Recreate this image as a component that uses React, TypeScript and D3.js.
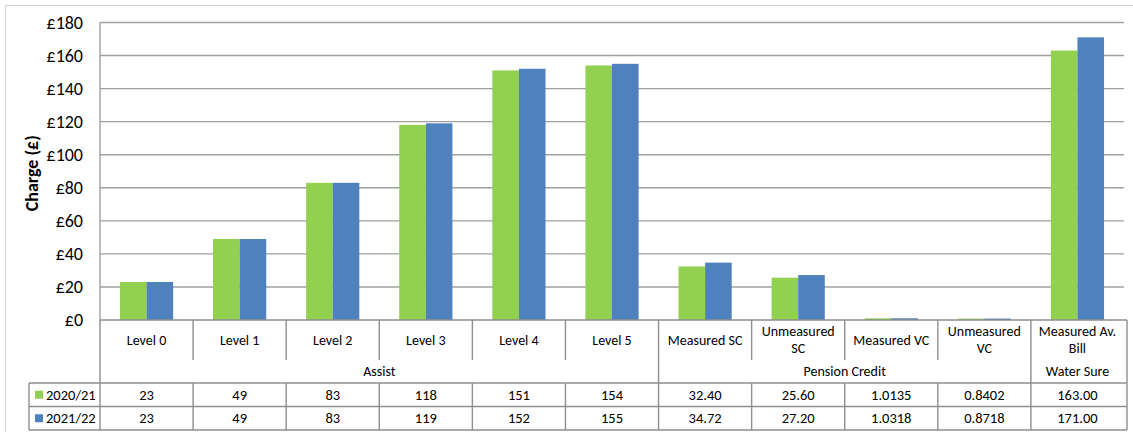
import React from 'react';
import * as d3 from 'd3';

// categories (label lines) and grouping
const categories: string[][] = [
    ['Level 0'], ['Level 1'], ['Level 2'], ['Level 3'], ['Level 4'], ['Level 5'],
    ['Measured SC'], ['Unmeasured', 'SC'], ['Measured VC'], ['Unmeasured', 'VC'], ['Measured Av.', 'Bill'],
];
const groups = [
    { name: 'Assist', span: 6 },
    { name: 'Pension Credit', span: 4 },
    { name: 'Water Sure', span: 1 },
];
const seriesNames = ['2020/21', '2021/22'];
const seriesColors = ['#92D050', '#4F81BD'];

// values as they appear in the data table
const values2020: string[] = ['23', '49', '83', '118', '151', '154', '32.40', '25.60', '1.0135', '0.8402', '163.00'];
const values2021: string[] = ['23', '49', '83', '119', '152', '155', '34.72', '27.20', '1.0318', '0.8718', '171.00'];
const yTicks = [0, 20, 40, 60, 80, 100, 120, 140, 160, 180];

const W = 1133;
const H = 432;
const FONT = 'Carlito, Calibri, Lato, sans-serif';

const App: React.FC = () => {
    const plot = { left: 100, right: 1124, top: 22.5, bottom: 320 };
    const rows = { label: 360, group: 383, r1: 406.5, r2: 430 };
    const legendLeft = 29;

    const keys = categories.map((_, i) => String(i));
    const x = d3.scaleBand<string>().domain(keys).range([plot.left, plot.right]).padding(0);
    const bw = x.bandwidth();
    const xInner = d3.scaleBand<string>().domain(seriesNames).range([0, bw]).paddingInner(0).paddingOuter(0.75);
    const y = d3.scaleLinear().domain([0, 180]).range([plot.bottom, plot.top]);

    const series = [values2020, values2021];
    const gridColor = '#a0a0a0';
    const tableColor = '#8e8e8e';

    let acc = 0;
    const groupPos = groups.map(g => {
        const start = acc;
        acc += g.span;
        return { ...g, x0: x(String(start))!, x1: x(String(acc - 1))! + bw };
    });

    return (
        <svg width={W} height={H} style={{ position: 'absolute', left: 0, top: 0, background: '#fff' }} fontFamily={FONT}>
            <rect x={5.5} y={5.5} width={W + 20} height={H + 20} fill="#fff" stroke="#d0d0d0" />

            {/* gridlines */}
            {yTicks.filter(t => t > 0).map(t => (
                <line key={t} x1={plot.left} x2={plot.right} y1={y(t)} y2={y(t)} stroke={gridColor} strokeWidth={1.4} />
            ))}
            <line x1={plot.left} x2={plot.left} y1={plot.top} y2={plot.bottom} stroke={gridColor} strokeWidth={1.4} />

            {/* tick labels */}
            {yTicks.map(t => (
                <text key={t} x={83} y={y(t)} dy="0.35em" textAnchor="end" fontSize={18} fill="#000">£{t}</text>
            ))}
            <text transform={`translate(38,${(plot.top + plot.bottom) / 2 + 2}) rotate(-90)`} textAnchor="middle"
                fontSize={18} fontWeight="bold" fill="#000">Charge (£)</text>

            {/* bars */}
            {series.map((vals, si) => vals.map((v, i) => {
                const val = +v;
                const bx = x(String(i))! + xInner(seriesNames[si])!;
                return (
                    <rect key={`${si}-${i}`} x={bx} y={y(val)} width={xInner.bandwidth()} height={plot.bottom - y(val)}
                        fill={seriesColors[si]} />
                );
            }))}

            {/* data table */}
            <g stroke={tableColor} strokeWidth={1.4} fill="none">
                <line x1={plot.left} x2={plot.right + 3} y1={plot.bottom} y2={plot.bottom} />
                <line x1={plot.left} x2={plot.left} y1={plot.bottom} y2={rows.r2} />
                {keys.map((k, i) => i > 0 && (
                    <line key={k} x1={x(k)} x2={x(k)} y1={plot.bottom} y2={rows.label} />
                ))}
                <line x1={plot.right + 3} x2={plot.right + 3} y1={plot.bottom} y2={rows.r2} />
                {groupPos.slice(1).map(g => (
                    <line key={g.name} x1={g.x0} x2={g.x0} y1={rows.label} y2={rows.group} />
                ))}
                {[rows.group, rows.r1, rows.r2].map(ry => (
                    <line key={ry} x1={legendLeft} x2={plot.right + 3} y1={ry} y2={ry} />
                ))}
                <line x1={legendLeft} x2={legendLeft} y1={rows.group} y2={rows.r2} />
                {keys.map((k, i) => i > 0 && (
                    <line key={k} x1={x(k)} x2={x(k)} y1={rows.group} y2={rows.r2} />
                ))}
            </g>

            {/* category labels */}
            {categories.map((lines, i) => {
                const cx = x(String(i))! + bw / 2;
                const cy = (plot.bottom + rows.label) / 2;
                return (
                    <text key={i} x={cx} textAnchor="middle" fontSize={14} fill="#000">
                        {lines.map((l, li) => (
                            <tspan key={li} x={cx} y={cy + (li - (lines.length - 1) / 2) * 17} dy="0.35em">{l}</tspan>
                        ))}
                    </text>
                );
            })}

            {/* group labels */}
            {groupPos.map(g => (
                <text key={g.name} x={(g.x0 + g.x1) / 2} y={(rows.label + rows.group) / 2} dy="0.35em"
                    textAnchor="middle" fontSize={14} fill="#000">{g.name}</text>
            ))}

            {/* data rows with legend */}
            {series.map((vals, si) => {
                const top = si === 0 ? rows.group : rows.r1;
                const bottom = si === 0 ? rows.r1 : rows.r2;
                const cy = (top + bottom) / 2;
                return (
                    <g key={si}>
                        <rect x={35} y={cy - 4} width={8} height={8} fill={seriesColors[si]} />
                        <text x={46} y={cy} dy="0.35em" fontSize={14.5} fill="#000">{seriesNames[si]}</text>
                        {vals.map((v, i) => (
                            <text key={i} x={x(String(i))! + bw / 2} y={cy} dy="0.35em" textAnchor="middle"
                                fontSize={14.5} fill="#000">{v}</text>
                        ))}
                    </g>
                );
            })}
        </svg>
    );
};

export default App;
